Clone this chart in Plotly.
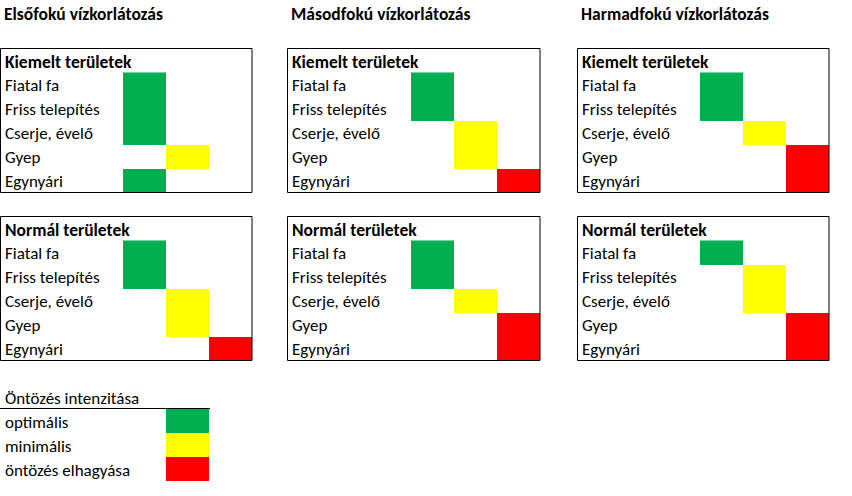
import plotly.graph_objects as go

# Data
plant_types = ["Fiatal fa", "Friss telepítés", "Cserje, évelő", "Gyep", "Egynyári"]
stage_titles = ["Elsőfokú vízkorlátozás", "Másodfokú vízkorlátozás", "Harmadfokú vízkorlátozás"]
area_titles = ["Kiemelt területek", "Normál területek"]
legend_title = "Öntözés intenzitása"
level_names = ["optimális", "minimális", "öntözés elhagyása"]
level_colors = ["#00B050", "#FFFF00", "#FF0000"]

# irrigation level per plant type: 0 = optimális, 1 = minimális, 2 = öntözés elhagyása
elso_kiemelt = [0, 0, 0, 1, 0]
elso_normal = [0, 0, 1, 1, 2]
masod_kiemelt = [0, 0, 1, 1, 2]
masod_normal = [0, 0, 1, 2, 2]
harmad_kiemelt = [0, 0, 1, 2, 2]
harmad_normal = [0, 1, 1, 2, 2]

levels = [
    [elso_kiemelt, elso_normal],
    [masod_kiemelt, masod_normal],
    [harmad_kiemelt, harmad_normal],
]

# Layout (pixels)
W, H = 852, 496
panel_left = [0.5, 287.5, 577.5]
panel_right = [252, 540, 829]
box_top = [48.5, 216.5]
row_h = 24
col_w = 43
font = "Carlito, Calibri, Lato, sans-serif"
body_size = 17
bold_size = 17.5

colorscale = [
    [0.0, level_colors[0]], [1 / 3, level_colors[0]],
    [1 / 3, level_colors[1]], [2 / 3, level_colors[1]],
    [2 / 3, level_colors[2]], [1.0, level_colors[2]],
]

fig = go.Figure()
annotations = []
shapes = []

for p in range(3):
    left, right = panel_left[p], panel_right[p]
    annotations.append(dict(x=left + 1.5, y=14, text="<b>" + stage_titles[p] + "</b>",
                            font=dict(size=bold_size)))
    grid_left = right - 3 * col_w
    for a in range(2):
        top = box_top[a]
        vals = levels[p][a]
        z = [[(v if v == c else None) for c in range(3)] for v in vals]
        fig.add_trace(go.Heatmap(
            z=z, x0=grid_left + col_w / 2, dx=col_w,
            y0=top + row_h * 1.5, dy=row_h,
            zmin=0, zmax=2, colorscale=colorscale, showscale=False,
            hoverinfo="skip",
        ))
        shapes.append(dict(type="rect", x0=left, x1=right, y0=top, y1=top + 6 * row_h,
                           line=dict(color="black", width=1)))
        annotations.append(dict(x=left + 2.5, y=top + row_h / 2 + 1,
                                text="<b>" + area_titles[a] + "</b>",
                                font=dict(size=bold_size)))
        for i, name in enumerate(plant_types):
            annotations.append(dict(x=left + 2.5, y=top + row_h * (i + 1.5) + 1, text=name,
                                    font=dict(size=body_size)))

# Legend block
leg_top = 409
annotations.append(dict(x=2.5, y=leg_top - 11, text=legend_title, font=dict(size=body_size)))
shapes.append(dict(type="line", x0=0, x1=210, y0=leg_top - 0.5, y1=leg_top - 0.5,
                   line=dict(color="black", width=1)))
fig.add_trace(go.Heatmap(
    z=[[k] for k in range(3)], x0=166 + col_w / 2, dx=col_w,
    y0=leg_top + row_h / 2, dy=row_h,
    zmin=0, zmax=2, colorscale=colorscale, showscale=False, hoverinfo="skip",
))
for k, name in enumerate(level_names):
    annotations.append(dict(x=2.5, y=leg_top + row_h * (k + 0.5) + 1, text=name,
                            font=dict(size=body_size)))

for an in annotations:
    an.update(xref="x", yref="y", xanchor="left", yanchor="middle", showarrow=False)
    an["font"]["color"] = "black"

fig.update_layout(
    width=W, height=H,
    margin=dict(l=0, r=0, t=0, b=0),
    paper_bgcolor="white", plot_bgcolor="white",
    font=dict(family=font, color="black"),
    annotations=annotations, shapes=shapes,
    showlegend=False,
)
fig.update_xaxes(range=[0, W], visible=False, fixedrange=True)
fig.update_yaxes(range=[H, 0], visible=False, fixedrange=True)

# drop the default body margin so the figure starts at the page corner
fig.write_html("out.html", config={"displayModeBar": False},
               post_script="document.body.style.margin='0';")
